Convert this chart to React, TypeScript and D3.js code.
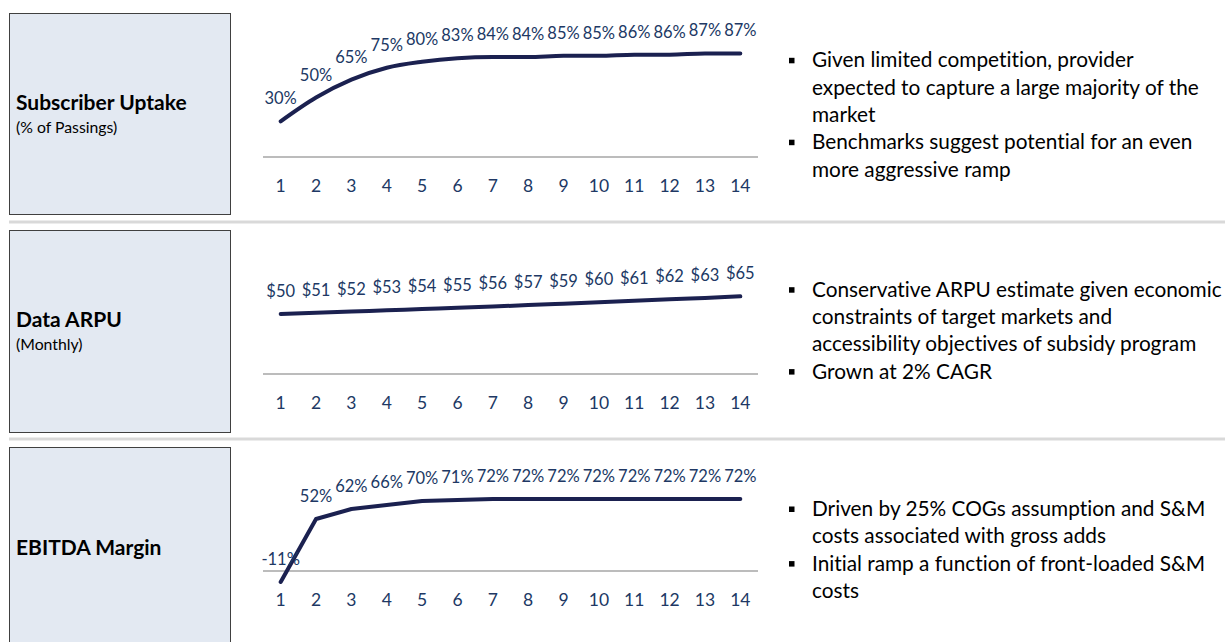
import React from "react";
import * as d3 from "d3";

// ---- Data ----
const years = [1, 2, 3, 4, 5, 6, 7, 8, 9, 10, 11, 12, 13, 14];
const uptake = [0.30, 0.50, 0.65, 0.75, 0.80, 0.83, 0.84, 0.84, 0.85, 0.85, 0.86, 0.86, 0.87, 0.87];
const arpu = [50, 51, 52, 53.1, 54.1, 55.2, 56.3, 57.4, 58.6, 59.8, 61.0, 62.2, 63.4, 64.7];
const ebitda = [-0.11, 0.52, 0.62, 0.66, 0.70, 0.71, 0.72, 0.72, 0.72, 0.72, 0.72, 0.72, 0.72, 0.72];

const titles = ["Subscriber Uptake", "Data ARPU", "EBITDA Margin"];
const subtitles = ["(% of Passings)", "(Monthly)", ""];
const bullets1 = [
  ["Given limited competition, provider", "expected to capture a large majority of the", "market"],
  ["Benchmarks suggest potential for an even", "more aggressive ramp"],
];
const bullets2 = [
  ["Conservative ARPU estimate given economic", "constraints of target markets and", "accessibility objectives of subsidy program"],
  ["Grown at 2% CAGR"],
];
const bullets3 = [
  ["Driven by 25% COGs assumption and S&M", "costs associated with gross adds"],
  ["Initial ramp a function of front-loaded S&M", "costs"],
];

const pctBase = d3.format(".0%");
const pct = (v: number) => pctBase(v).replace("\u2212", "-");
const dollar = (v: number) => "$" + Math.round(v);

// ---- Layout / style ----
const W = 1225;
const H = 642;
const FONT = "Lato, 'Open Sans', sans-serif";
const TEXT_BLUE = "#203864";
const LINE = "#1b2150";
const BOX_FILL = "#e3e9f2";
const X0 = 263;
const X1 = 758;

const panels = [
  {
    values: uptake, fmt: pct, domain: [0, 1], axisY: 157, top: 38, curve: d3.curveMonotoneX,
    box: [13, 214], titleY: 110, subY: 133, bullets: bullets1, bulletY: 67.3,
  },
  {
    values: arpu, fmt: dollar, domain: [0, 100], axisY: 374, top: 254, curve: d3.curveMonotoneX,
    box: [230, 432], titleY: 327, subY: 350, bullets: bullets2, bulletY: 296.7,
  },
  {
    values: ebitda, fmt: pct, domain: [0, 1], axisY: 571, top: 471, curve: d3.curveLinear,
    box: [447, 660], titleY: 555, subY: 0, bullets: bullets3, bulletY: 516,
  },
];
const separators = [222, 439];

export default function App() {
  const x = d3.scaleBand<number>().domain(years).range([X0, X1]);
  const cx = (d: number) => (x(d) as number) + x.bandwidth() / 2;

  return (
    <svg
      width={W}
      height={H}
      style={{ position: "absolute", left: 0, top: 0, background: "#fff", fontVariantLigatures: "none" }}
      fontFamily={FONT}
    >
      {separators.map((y) => (
        <line key={y} x1={9} x2={W} y1={y} y2={y} stroke="#d9d9d9" strokeWidth={3} />
      ))}
      {panels.map((p, i) => {
        const y = d3.scaleLinear().domain(p.domain).range([p.axisY, p.top]);
        const line = d3
          .line<number>()
          .x((_, j) => cx(years[j]))
          .y((v) => y(v))
          .curve(p.curve);
        let lineNo = 0;
        return (
          <g key={i}>
            <rect
              x={9.5}
              y={p.box[0] + 0.5}
              width={221}
              height={p.box[1] - p.box[0]}
              fill={BOX_FILL}
              stroke="#404040"
              strokeWidth={1}
            />
            <text x={16} y={p.titleY} fontSize={21} fontWeight="bold" fill="#000">
              {titles[i]}
            </text>
            {subtitles[i] && (
              <text x={16} y={p.subY} fontSize={15.8} fill="#000">
                {subtitles[i]}
              </text>
            )}
            <line x1={X0} x2={X1} y1={p.axisY} y2={p.axisY} stroke="#a6a6a6" strokeWidth={1.5} />
            {years.map((d) => (
              <text
                key={d}
                x={cx(d)}
                y={p.axisY + 35}
                fontSize={17.5}
                fill={TEXT_BLUE}
                textAnchor="middle"
              >
                {d}
              </text>
            ))}
            <path
              d={line(p.values) || ""}
              fill="none"
              stroke={LINE}
              strokeWidth={4}
              strokeLinecap="round"
              strokeLinejoin="round"
            />
            {p.values.map((v, j) => (
              <text
                key={j}
                x={cx(years[j])}
                y={y(v) - 17}
                fontSize={16.5}
                fill={TEXT_BLUE}
                textAnchor="middle"
              >
                {p.fmt(v)}
              </text>
            ))}
            {p.bullets.map((b, bi) => {
              const startLine = lineNo;
              lineNo += b.length;
              const by = p.bulletY + startLine * 27.3;
              return (
                <g key={bi}>
                  <rect x={789} y={by - 9.5} width={5.5} height={5.5} fill="#000" />
                  {b.map((t, ti) => (
                    <text key={ti} x={812} y={by + ti * 27.3} fontSize={20.8} fill="#000">
                      {t}
                    </text>
                  ))}
                </g>
              );
            })}
          </g>
        );
      })}
    </svg>
  );
}
